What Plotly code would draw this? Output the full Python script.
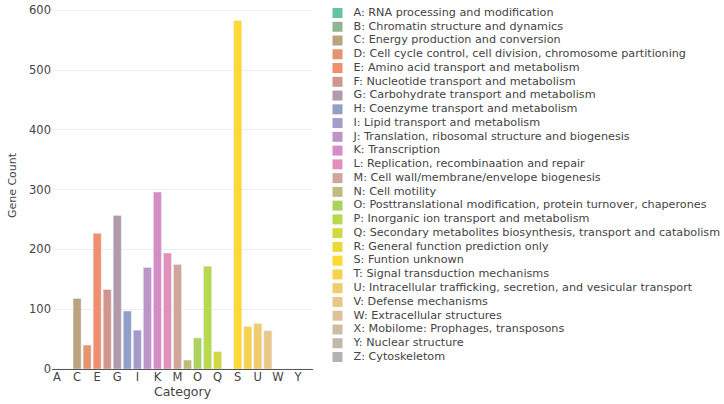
import plotly.graph_objects as go
from plotly.colors import sample_colorscale, qualitative

codes = list("ABCDEFGHIJKLMNOPQRSTUVWXYZ")
descriptions = [
    "RNA processing and modification",
    "Chromatin structure and dynamics",
    "Energy production and conversion",
    "Cell cycle control, cell division, chromosome partitioning",
    "Amino acid transport and metabolism",
    "Nucleotide transport and metabolism",
    "Carbohydrate transport and metabolism",
    "Coenzyme transport and metabolism",
    "Lipid transport and metabolism",
    "Translation, ribosomal structure and biogenesis",
    "Transcription",
    "Replication, recombinaation and repair",
    "Cell wall/membrane/envelope biogenesis",
    "Cell motility",
    "Posttranslational modification, protein turnover, chaperones",
    "Inorganic ion transport and metabolism",
    "Secondary metabolites biosynthesis, transport and catabolism",
    "General function prediction only",
    "Funtion unknown",
    "Signal transduction mechanisms",
    "Intracellular trafficking, secretion, and vesicular transport",
    "Defense mechanisms",
    "Extracellular structures",
    "Mobilome: Prophages, transposons",
    "Nuclear structure",
    "Cytoskeletom",
]
gene_counts = [0, 0, 118, 40, 227, 133, 257, 97, 65, 170, 296, 194, 175,
               15, 52, 172, 29, 0, 583, 71, 76, 64, 0, 0, 0, 0]
labels = [f"{c}: {d}" for c, d in zip(codes, descriptions)]

n = len(codes)
colors = sample_colorscale(qualitative.Set2, [i / (n - 1) for i in range(n)])
FONT = "DejaVu Sans, Verdana, sans-serif"

fig = go.Figure()
# main bar chart
fig.add_trace(go.Bar(
    x=codes, y=gene_counts, marker=dict(color=colors), width=0.8,
    showlegend=False, xaxis="x", yaxis="y",
))
# legend drawn as a scatter on a hidden axis
idx = list(range(n))
fig.add_trace(go.Scatter(
    x=[0] * n, y=idx, mode="markers",
    marker=dict(symbol="square", size=10, color=colors),
    showlegend=False, hoverinfo="skip", xaxis="x2", yaxis="y2",
))
fig.add_trace(go.Scatter(
    x=[16] * n, y=idx, mode="text", text=labels,
    textposition="middle right",
    textfont=dict(family=FONT, size=11.2, color="#444"),
    showlegend=False, hoverinfo="skip", xaxis="x2", yaxis="y2",
))

PW = 724 - 52
fig.update_layout(
    width=724, height=404,
    margin=dict(l=52, r=0, t=2, b=35),
    plot_bgcolor="white", paper_bgcolor="white",
    font=dict(family=FONT, size=11, color="#444"),
    showlegend=False,
    xaxis=dict(domain=[0, 261 / PW],
               title=dict(text="Category", font=dict(size=12.5), standoff=0),
               categoryorder="array", categoryarray=codes,
               tickmode="array", tickvals=codes[::2], ticktext=codes[::2],
               tickfont=dict(size=11.5), ticklabelstandoff=-3,
               showline=True, linecolor="#555", linewidth=1.2,
               showgrid=False, ticks=""),
    yaxis=dict(title=dict(text="Gene Count", font=dict(size=11), standoff=10),
               range=[0, 614],
               gridcolor="#eee", zeroline=False, showline=False,
               tickfont=dict(size=11.5),
               tickvals=[0, 100, 200, 300, 400, 500, 600]),
    xaxis2=dict(domain=[280 / PW, 1], range=[-5.5, 386.5], visible=False,
                fixedrange=True),
    yaxis2=dict(anchor="x2", domain=[0, 1], range=[25.872, -0.799],
                visible=False, fixedrange=True),
)

fig.write_html("out.html")
